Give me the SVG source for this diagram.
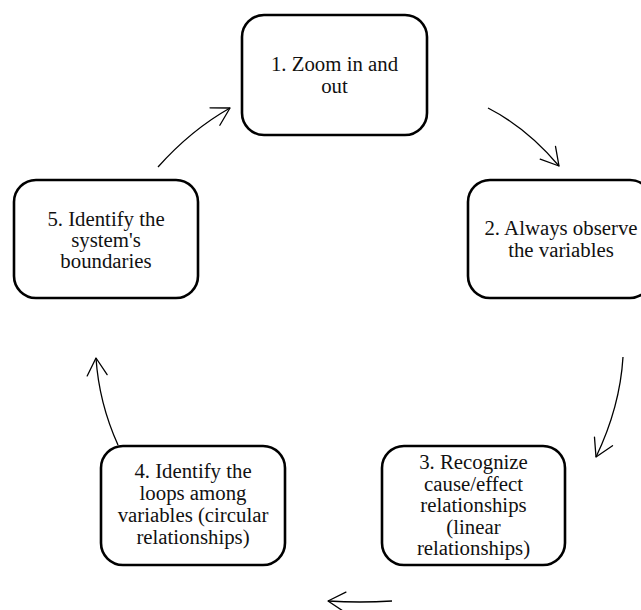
<svg xmlns="http://www.w3.org/2000/svg" width="641" height="610" viewBox="0 0 641 610">
  <style>
    .box { fill: #ffffff; stroke: #000000; stroke-width: 2.6; }
    .label { font-family: "Liberation Serif", "Times New Roman", serif; font-size: 20.8px; fill: #111111; text-anchor: middle; }
    .link { fill: none; stroke: #000000; stroke-width: 1.3; marker-end: url(#open-arrow); }
  </style>
  <defs>
    <marker id="open-arrow" markerUnits="userSpaceOnUse" markerWidth="24" markerHeight="24" viewBox="-20 -12 22 24" refX="0" refY="0" orient="auto">
      <path d="M -17.3 -10 L 0 0 L -17.3 10" fill="none" stroke="#000000" stroke-width="1.3" stroke-linecap="round" stroke-linejoin="round"/>
    </marker>
  </defs>

  <rect width="641" height="610" fill="#ffffff"/>

  <!-- cycle arrows -->
  <g id="connectors">
    <path class="link" d="M 488 108 Q 527 128 559 166"/>
    <path class="link" d="M 623 357 Q 620 407 596 457"/>
    <path class="link" d="M 392 601 Q 360 603 328 601"/>
    <path class="link" d="M 118 445 Q 99 403 96 358"/>
    <path class="link" d="M 158 167 Q 191 130 230 108"/>
  </g>

  <g id="step1">
    <rect class="box" x="242" y="15" width="185" height="120" rx="22" ry="22"/>
    <text class="label" x="334.5" y="71">1. Zoom in and</text>
    <text class="label" x="334.5" y="93">out</text>
  </g>

  <g id="step2">
    <rect class="box" x="468" y="180" width="184" height="118" rx="22" ry="22"/>
    <text class="label" x="561" y="235">2. Always observe</text>
    <text class="label" x="561" y="257">the variables</text>
  </g>

  <g id="step3">
    <rect class="box" x="382" y="446" width="183" height="119" rx="22" ry="22"/>
    <text class="label" x="473.5" y="469">3. Recognize</text>
    <text class="label" x="473.5" y="490.5">cause/effect</text>
    <text class="label" x="473.5" y="512">relationships</text>
    <text class="label" x="473.5" y="533.5">(linear</text>
    <text class="label" x="473.5" y="555">relationships)</text>
  </g>

  <g id="step4">
    <rect class="box" x="101" y="446" width="184" height="119" rx="22" ry="22"/>
    <text class="label" x="193" y="478">4. Identify the</text>
    <text class="label" x="193" y="500">loops among</text>
    <text class="label" x="193" y="522">variables (circular</text>
    <text class="label" x="193" y="544">relationships)</text>
  </g>

  <g id="step5">
    <rect class="box" x="14" y="180" width="184" height="118" rx="22" ry="22"/>
    <text class="label" x="106" y="226">5. Identify the</text>
    <text class="label" x="106" y="247">system's</text>
    <text class="label" x="106" y="268">boundaries</text>
  </g>
</svg>
